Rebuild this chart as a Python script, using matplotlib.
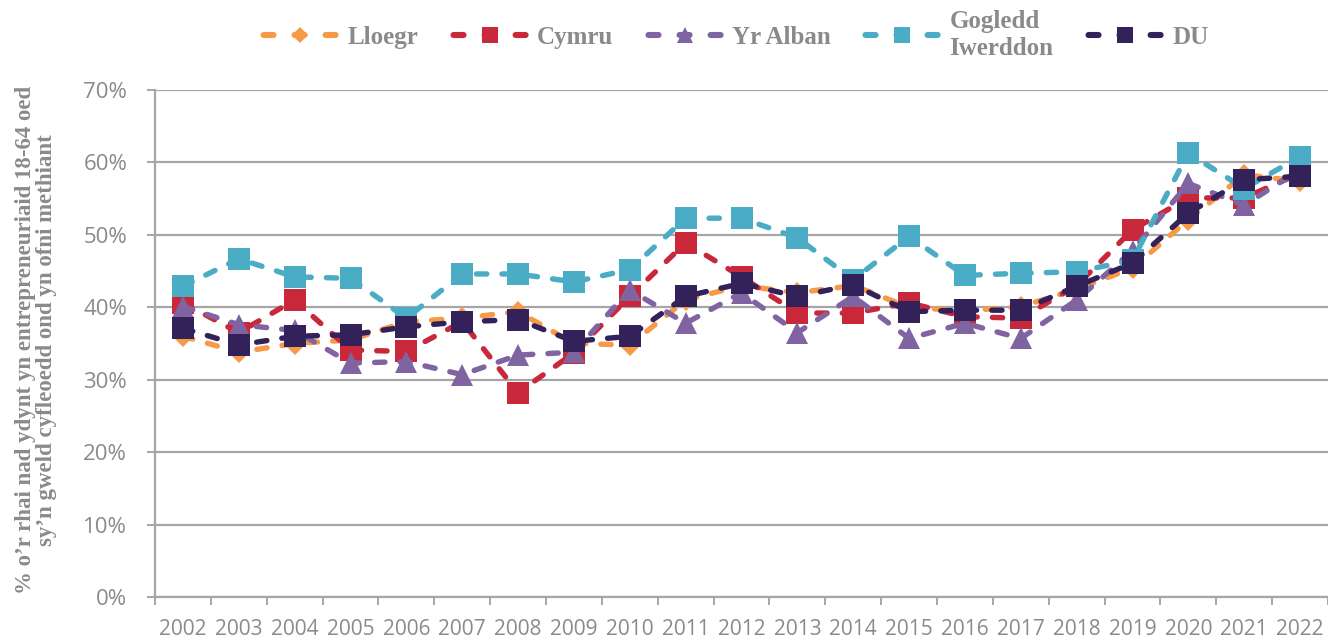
import matplotlib
matplotlib.use('Agg')
import matplotlib.pyplot as plt
from matplotlib.lines import Line2D
from matplotlib.ticker import FixedLocator, PercentFormatter

years = [str(y) for y in range(2002, 2023)]

lloegr = [36.0, 33.8, 35.0, 35.5, 38.0, 38.5, 39.4, 35.0, 34.8, 41.0,
          43.0, 42.0, 43.0, 40.0, 39.5, 40.1, 42.5, 45.4, 52.1, 58.3, 57.4]
cymru = [40.6, 36.5, 41.0, 34.1, 33.9, 38.0, 28.2, 33.7, 41.5, 48.9,
         44.2, 39.2, 39.2, 40.6, 38.7, 38.5, 43.0, 50.7, 55.1, 55.1, 58.5]
yr_alban = [40.1, 37.6, 36.8, 32.3, 32.5, 30.7, 33.4, 33.8, 42.4, 37.8,
            42.0, 36.5, 41.5, 35.7, 37.8, 35.7, 41.0, 47.8, 57.1, 54.1, 59.0]
gogledd = [42.9, 46.7, 44.2, 44.0, 38.5, 44.6, 44.6, 43.5, 45.2, 52.3,
           52.3, 49.6, 43.8, 49.8, 44.4, 44.7, 44.9, 46.5, 61.3, 56.4, 60.8]
du = [37.1, 34.8, 36.0, 36.2, 37.3, 38.0, 38.3, 35.3, 36.0, 41.5,
      43.3, 41.5, 43.1, 39.4, 39.6, 39.6, 42.9, 46.1, 53.0, 57.6, 58.1]

labels = ['Lloegr', 'Cymru', 'Yr Alban', 'Gogledd\nIwerddon', 'DU']
colors = ['#F79A48', '#C9283A', '#8064A2', '#4BACC6', '#33215A']
markers = ['D', 's', '^', 's', 's']
msizes = [11, 16, 16, 16, 16]
series = [lloegr, cymru, yr_alban, gogledd, du]

GRAY = '#8a8a8a'
GRID = '#a6a6a6'

fig = plt.figure(figsize=(13.28, 6.41), dpi=100)
ax = fig.add_axes([155 / 1328, 1 - 597 / 641, 1173 / 1328, 507 / 641])

x = list(range(len(years)))
for vals, lab, col, mk, ms in zip(series, labels, colors, markers, msizes):
    ax.plot(x, [v / 100 for v in vals], color=col, lw=3.9,
            linestyle=(0, (1.9, 2.8)), dash_capstyle='round',
            marker=mk, markersize=ms, markeredgewidth=0, zorder=3)

ax.set_xlim(-0.5, len(years) - 0.5)
ax.set_ylim(0, 0.7)
ax.yaxis.set_major_locator(FixedLocator([i / 10 for i in range(8)]))
ax.yaxis.set_major_formatter(PercentFormatter(1.0, decimals=0))
ax.set_xticks(x)
ax.set_xticklabels(years)
ax.xaxis.set_minor_locator(FixedLocator([i - 0.5 for i in range(len(years) + 1)]))

ax.grid(axis='y', color=GRID, lw=1.6, zorder=0)
for s in ['top', 'right']:
    ax.spines[s].set_visible(False)
for s in ['left', 'bottom']:
    ax.spines[s].set_color(GRID)
    ax.spines[s].set_linewidth(1.6)

ax.tick_params(axis='y', which='major', length=6, width=1.4, color=GRID,
               pad=14, labelsize=16, labelcolor=GRAY)
ax.tick_params(axis='x', which='major', length=0, pad=16,
               labelsize=15, labelcolor=GRAY)
ax.tick_params(axis='x', which='minor', length=6, width=1.4, color=GRID)
for t in ax.get_xticklabels() + ax.get_yticklabels():
    t.set_fontfamily('Open Sans')

fig.text(36 / 1328, 1 - 340 / 641,
         "% o’r rhai nad ydynt yn entrepreneuriaid 18-64 oed\nsy’n gweld cyfleoedd ond yn ofni methiant",
         rotation=90, ha='center', va='center', fontsize=16.5, fontweight='bold',
         family='Liberation Serif', color=GRAY, linespacing=0.95)

# legend: three short dashes, marker on the middle one
handles = [Line2D([0], [0], color=c, lw=4.4, linestyle=(4.67, (1.64, 3.44)),
                  dash_capstyle='round', marker=m, markersize=ms * 0.7,
                  markeredgewidth=0)
           for c, m, ms in zip(colors, markers, msizes)]
leg = fig.legend(handles, labels, loc='center', ncol=5,
                 bbox_to_anchor=(735 / 1328, 1 - 35 / 641), frameon=False,
                 handlelength=3.1, handletextpad=0.35, columnspacing=1.3,
                 labelspacing=0.2,
                 prop={'family': 'Liberation Serif', 'weight': 'bold', 'size': 18})
for t in leg.get_texts():
    t.set_color(GRAY)
    t.set_linespacing(1.2)

fig.savefig('out.png', dpi=100, facecolor='white')
